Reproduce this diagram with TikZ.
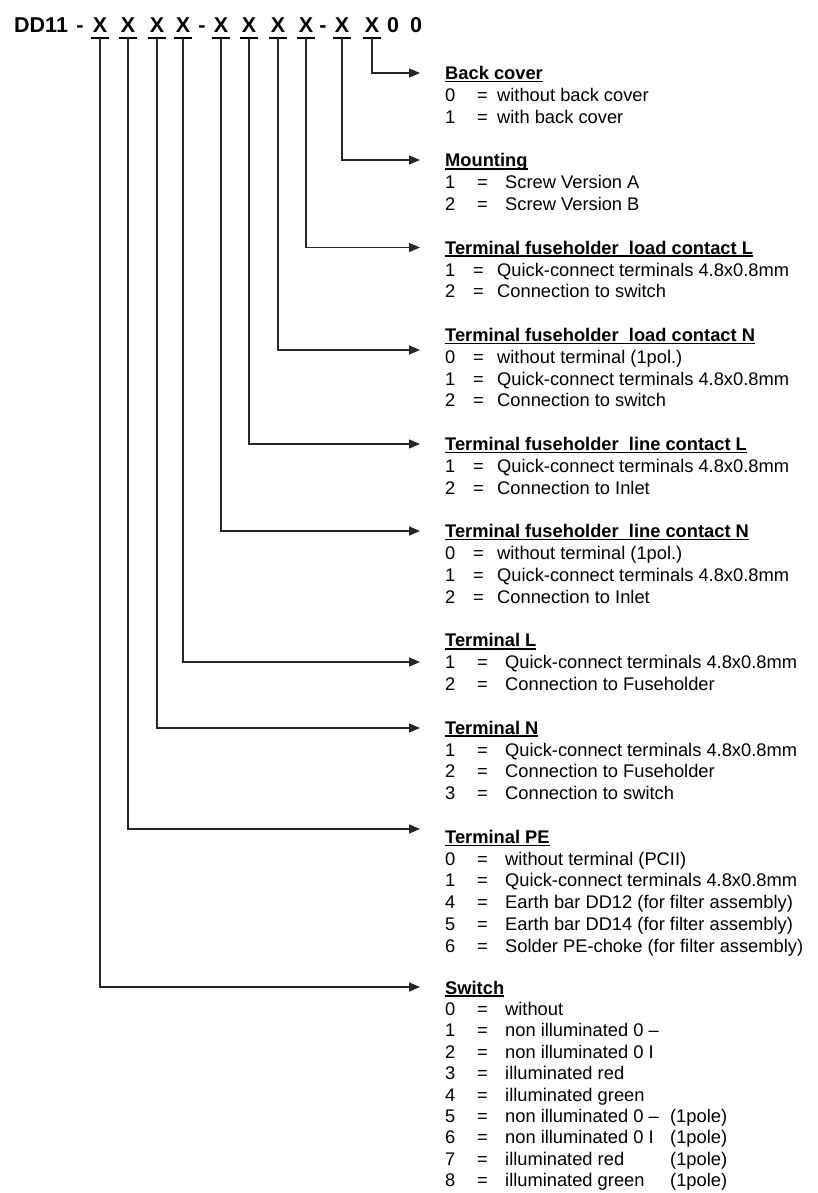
\documentclass[tikz,border=0pt]{standalone}
\usepackage{fontspec}
\setmainfont{Liberation Sans}
\usepackage{array}
\usetikzlibrary{arrows.meta}
\newcolumntype{A}{@{}p{28pt}@{}p{24pt}@{}l@{}}
\newcolumntype{B}{@{}p{32pt}@{}p{28pt}@{}l@{}}
\def\optitle#1{\setbox0\hbox{\bfseries #1}\rlap{\vrule width\wd0 height -1.2pt depth 2.6pt}\box0}

\begin{document}
\begin{tikzpicture}[x=1pt,y=-1pt,
	code/.style={font=\fontsize{21.5}{24}\selectfont\bfseries, inner sep=0pt, anchor=base},
	slot/.style={code, inner xsep=2pt, inner ysep=5pt},
	bar/.style={line width=2.4pt},
	conn/.style={line width=1.2pt, black!85, -{Triangle[length=11pt,width=9pt]}},
	opts/.style={font=\fontsize{18.3}{21.82}\selectfont, inner sep=0pt, anchor=base west}]
			%%%%% START %%%%%
			\useasboundingbox (0,0) rectangle (818,1193);
			
			% type code
			\node[code, anchor=base west] (dd) at (14,33) {DD11};
			\node[code] (d1) at (80,33) {-};
			\foreach \i/\xx in {1/100,2/128,3/157,4/183,5/221,6/249,7/278,8/306,9/342,10/372}{
				\node[slot] (x\i) at (\xx,33) {X};
				\draw[bar] (x\i.south west) -- (x\i.south east);
			}
			\node[code] (d2) at (202,33) {-};
			\node[code] (d3) at (323,33) {-};
			\node[code] (z1) at (393,33) {0};
			\node[code] (z2) at (416,33) {0};
			
			% arrow tips
			\coordinate (tback) at (420,73);
			\coordinate (tmount) at (420,160);
			\coordinate (tfload) at (420,247.5);
			\coordinate (tnload) at (420,350);
			\coordinate (tlline) at (420,444);
			\coordinate (tnline) at (420,531);
			\coordinate (tterml) at (420,662);
			\coordinate (ttermn) at (420,728);
			\coordinate (ttermpe) at (420,829);
			\coordinate (tswitch) at (420,987);
			
			\draw[conn] (x10.south) |- (tback);
			\draw[conn] (x9.south) |- (tmount);
			\draw[conn] (x8.south) |- (tfload);
			\draw[conn] (x7.south) |- (tnload);
			\draw[conn] (x6.south) |- (tlline);
			\draw[conn] (x5.south) |- (tnline);
			\draw[conn] (x4.south) |- (tterml);
			\draw[conn] (x3.south) |- (ttermn);
			\draw[conn] (x2.south) |- (ttermpe);
			\draw[conn] (x1.south) |- (tswitch);
			
			% options
			\node[opts] (back) at (445,79.6) {\begin{tabular}[t]{@{}p{32pt}@{}p{20pt}@{}l@{}}
				\multicolumn{3}{@{}l@{}}{\optitle{Back cover}}\\
				0 & = & without back cover\\
				1 & = & with back cover
			\end{tabular}};
			\node[opts] (mount) at (445,166.9) {\begin{tabular}[t]{B}
				\multicolumn{3}{@{}l@{}}{\optitle{Mounting}}\\
				1 & = & Screw Version A\\
				2 & = & Screw Version B
			\end{tabular}};
			\node[opts] (fload) at (445,254.2) {\begin{tabular}[t]{A}
				\multicolumn{3}{@{}l@{}}{\optitle{Terminal fuseholder\ \ load contact L}}\\
				1 & = & Quick-connect terminals 4.8x0.8mm\\
				2 & = & Connection to switch
			\end{tabular}};
			\node[opts] (nload) at (445,341.4) {\begin{tabular}[t]{A}
				\multicolumn{3}{@{}l@{}}{\optitle{Terminal fuseholder\ \ load contact N}}\\
				0 & = & without terminal (1pol.)\\
				1 & = & Quick-connect terminals 4.8x0.8mm\\
				2 & = & Connection to switch
			\end{tabular}};
			\node[opts] (lline) at (445,450.5) {\begin{tabular}[t]{A}
				\multicolumn{3}{@{}l@{}}{\optitle{Terminal fuseholder\ \ line contact L}}\\
				1 & = & Quick-connect terminals 4.8x0.8mm\\
				2 & = & Connection to Inlet
			\end{tabular}};
			\node[opts] (nline) at (445,537.8) {\begin{tabular}[t]{A}
				\multicolumn{3}{@{}l@{}}{\optitle{Terminal fuseholder\ \ line contact N}}\\
				0 & = & without terminal (1pol.)\\
				1 & = & Quick-connect terminals 4.8x0.8mm\\
				2 & = & Connection to Inlet
			\end{tabular}};
			\node[opts] (terml) at (445,646.9) {\begin{tabular}[t]{B}
				\multicolumn{3}{@{}l@{}}{\optitle{Terminal L}}\\
				1 & = & Quick-connect terminals 4.8x0.8mm\\
				2 & = & Connection to Fuseholder
			\end{tabular}};
			\node[opts] (termn) at (445,734.2) {\begin{tabular}[t]{B}
				\multicolumn{3}{@{}l@{}}{\optitle{Terminal N}}\\
				1 & = & Quick-connect terminals 4.8x0.8mm\\
				2 & = & Connection to Fuseholder\\
				3 & = & Connection to switch
			\end{tabular}};
			\node[opts] (termpe) at (445,843.3) {\begin{tabular}[t]{B}
				\multicolumn{3}{@{}l@{}}{\optitle{Terminal PE}}\\
				0 & = & without terminal (PCII)\\
				1 & = & Quick-connect terminals 4.8x0.8mm\\
				4 & = & Earth bar DD12 (for filter assembly)\\
				5 & = & Earth bar DD14 (for filter assembly)\\
				6 & = & Solder PE-choke (for filter assembly)
			\end{tabular}};
			\node[opts, font=\fontsize{18.3}{21.4}\selectfont] (switch) at (445,994) {\begin{tabular}[t]{B}
				\multicolumn{3}{@{}l@{}}{\optitle{Switch}}\\
				0 & = & without\\
				1 & = & non illuminated 0 --\\
				2 & = & non illuminated 0 I\\
				3 & = & illuminated red\\
				4 & = & illuminated green\\
				5 & = & \makebox[165pt][l]{non illuminated 0 --}(1pole)\\
				6 & = & \makebox[165pt][l]{non illuminated 0 I}(1pole)\\
				7 & = & \makebox[165pt][l]{illuminated red}(1pole)\\
				8 & = & \makebox[165pt][l]{illuminated green}(1pole)
			\end{tabular}};
			%%%%% END %%%%%
		\end{tikzpicture}
\end{document}
